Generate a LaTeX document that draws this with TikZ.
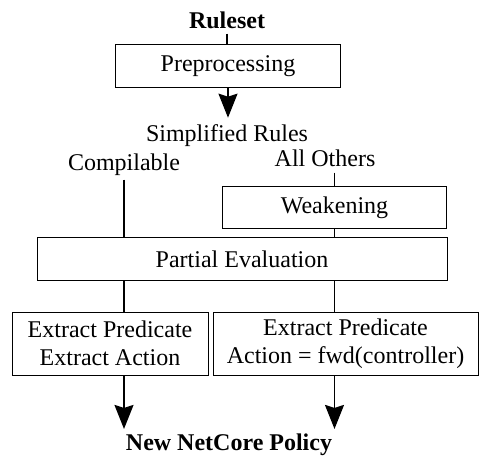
\documentclass[tikz,border=0pt]{standalone}
\usepackage{fontspec}
\setmainfont{Liberation Serif}
\usetikzlibrary{arrows, positioning, arrows.meta}

\begin{document}
\begin{tikzpicture}[x=0.5pt, y=-0.5pt, font=\fontsize{12}{14}\selectfont,
    stage/.style={draw, line width=0.5pt, inner sep=0pt, align=center},
    tag/.style={inner sep=2pt, anchor=base},
    heading/.style={tag, font=\fontsize{12}{14}\selectfont\bfseries},
    link/.style={line width=0.9pt},
    flow/.style={line width=0.9pt, arrows = {-Stealth[length=12pt, width=9.5pt, inset=1.5pt]}}]

    \useasboundingbox (0,0) rectangle (480,458);

    %% top part
    % Nodes
    \node[heading] (ruleset) at (227,29) {Ruleset};
    \node[stage, minimum width=112.5pt, minimum height=21.5pt] (prep) at (228,66.5) {Preprocessing};
    \node[tag, inner ysep=3.5pt] (simp) at (227,142) {Simplified Rules};
    \node[tag, inner sep=1.5pt] (compil) at (124,171) {Compilable};
    \node[tag, inner sep=2.5pt] (others) at (325,167) {All Others};

    % Connections
    \draw [link] (ruleset.south) -- (ruleset.south |- prep.north);
    \draw [flow] (prep.south) -- (prep.south |- simp.north);

    %% middle part
    % Nodes
    \node[stage, minimum width=112pt, minimum height=21pt] (weak) at (334.5,208) {Weakening};
    \node[stage, minimum width=205pt, minimum height=21.5pt] (pe) at (242,259.5) {Partial Evaluation};

    % Connections
    \draw [link] (compil.south) -- (compil.south |- pe.north);
    \draw [link] (others.south -| weak.north) -- (weak.north);
    \draw [link] (weak.south) -- (weak.south |- pe.north);

    %% bottom part
    % Nodes
    \node[stage, minimum width=98pt, minimum height=31.5pt] (exl) at (110,343.5) {Extract Predicate\\Extract Action};
    \node[stage, minimum width=132.5pt, minimum height=31.5pt] (exr) at (345.5,343.5) {Extract Predicate\\Action = fwd(controller)};
    \node[heading] (policy) at (229,450) {New NetCore Policy};

    % Connections
    \draw [link] (compil |- pe.south) -- (compil |- exl.north);
    \draw [link] (weak |- pe.south) -- (weak |- exr.north);
    \draw [flow] (compil |- exl.south) -- (compil |- policy.north);
    \draw [flow] (weak |- exr.south) -- (weak |- policy.north);
\end{tikzpicture}
\end{document}
